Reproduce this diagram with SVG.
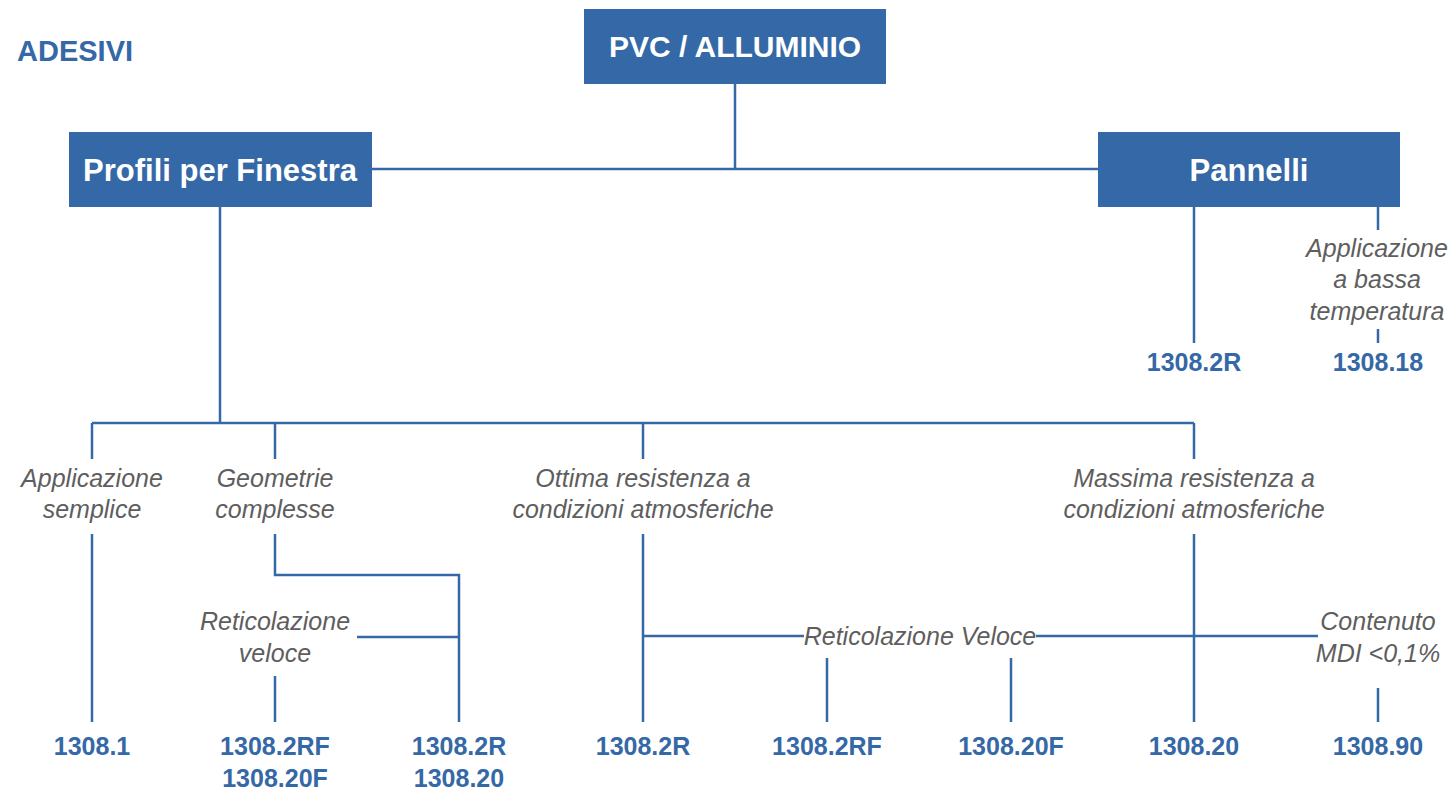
<svg xmlns="http://www.w3.org/2000/svg" width="1456" height="798" viewBox="0 0 1456 798">
<style>
.box{fill:#3568a6}
.bt{font-family:"Liberation Sans",Arial,sans-serif;font-weight:bold;fill:#ffffff;text-anchor:middle}
.ln{stroke:#3568a6;stroke-width:2.5;fill:none}
.lab{font-family:"Liberation Sans",Arial,sans-serif;font-style:italic;font-size:25px;fill:#5e5e5e;text-anchor:middle}
.code{font-family:"Liberation Sans",Arial,sans-serif;font-weight:bold;font-size:25px;fill:#3568a6;text-anchor:middle}
.title{font-family:"Liberation Sans",Arial,sans-serif;font-weight:bold;font-size:29px;fill:#3568a6}
</style>
<rect width="1456" height="798" fill="#ffffff"/>
<text class="title" x="17" y="61">ADESIVI</text>
<g id="connectors">
<path class="ln" d="M735 84V169M372 169H1098"/>
<path class="ln" d="M220 207V423M92 423H1194M92 423V459M275 423V459M643 423V459M1194 423V459"/>
<path class="ln" d="M92 534V722"/>
<path class="ln" d="M275 534V575H459V722M357 637H459M275 676V722"/>
<path class="ln" d="M643 534V722M643 636H804M1036 636H1318M1194 534V722"/>
<path class="ln" d="M827 658V722M1011 658V722M1378 688V722"/>
<path class="ln" d="M1194 207V343M1378 207V230M1378 329V343"/>
</g>
<g id="n-pvc">
<rect class="box" x="584" y="9" width="302" height="75"/>
<text class="bt" x="735" y="57" font-size="30">PVC / ALLUMINIO</text>
</g>
<g id="n-profili">
<rect class="box" x="69" y="132" width="303" height="75"/>
<text class="bt" x="220" y="181" font-size="31">Profili per Finestra</text>
</g>
<g id="n-pannelli">
<rect class="box" x="1098" y="132" width="302" height="75"/>
<text class="bt" x="1249" y="181" font-size="31">Pannelli</text>
</g>
<g id="n-lab-bassa">
<text class="lab" x="1377" y="257">Applicazione</text>
<text class="lab" x="1377" y="288">a bassa</text>
<text class="lab" x="1377" y="320">temperatura</text>
</g>
<g id="n-pan-2r"><text class="code" x="1194" y="371">1308.2R</text></g>
<g id="n-pan-18"><text class="code" x="1378" y="371">1308.18</text></g>
<g id="n-lab-semplice">
<text class="lab" x="92" y="487">Applicazione</text>
<text class="lab" x="92" y="518">semplice</text>
</g>
<g id="n-lab-geometrie">
<text class="lab" x="275" y="487">Geometrie</text>
<text class="lab" x="275" y="518">complesse</text>
</g>
<g id="n-lab-ottima">
<text class="lab" x="643" y="487">Ottima resistenza a</text>
<text class="lab" x="643" y="518">condizioni atmosferiche</text>
</g>
<g id="n-lab-massima">
<text class="lab" x="1194" y="487">Massima resistenza a</text>
<text class="lab" x="1194" y="518">condizioni atmosferiche</text>
</g>
<g id="n-lab-retic1">
<text class="lab" x="275" y="630">Reticolazione</text>
<text class="lab" x="275" y="662">veloce</text>
</g>
<g id="n-lab-retic2"><text class="lab" x="920" y="645">Reticolazione Veloce</text></g>
<g id="n-lab-mdi">
<text class="lab" x="1378" y="630">Contenuto</text>
<text class="lab" x="1378" y="662">MDI &lt;0,1%</text>
</g>
<g id="n-c1"><text class="code" x="92" y="755">1308.1</text></g>
<g id="n-c2"><text class="code" x="275" y="755">1308.2RF</text><text class="code" x="275" y="787">1308.20F</text></g>
<g id="n-c3"><text class="code" x="459" y="755">1308.2R</text><text class="code" x="459" y="787">1308.20</text></g>
<g id="n-c4"><text class="code" x="643" y="755">1308.2R</text></g>
<g id="n-c5"><text class="code" x="827" y="755">1308.2RF</text></g>
<g id="n-c6"><text class="code" x="1011" y="755">1308.20F</text></g>
<g id="n-c7"><text class="code" x="1194" y="755">1308.20</text></g>
<g id="n-c8"><text class="code" x="1378" y="755">1308.90</text></g>
</svg>
